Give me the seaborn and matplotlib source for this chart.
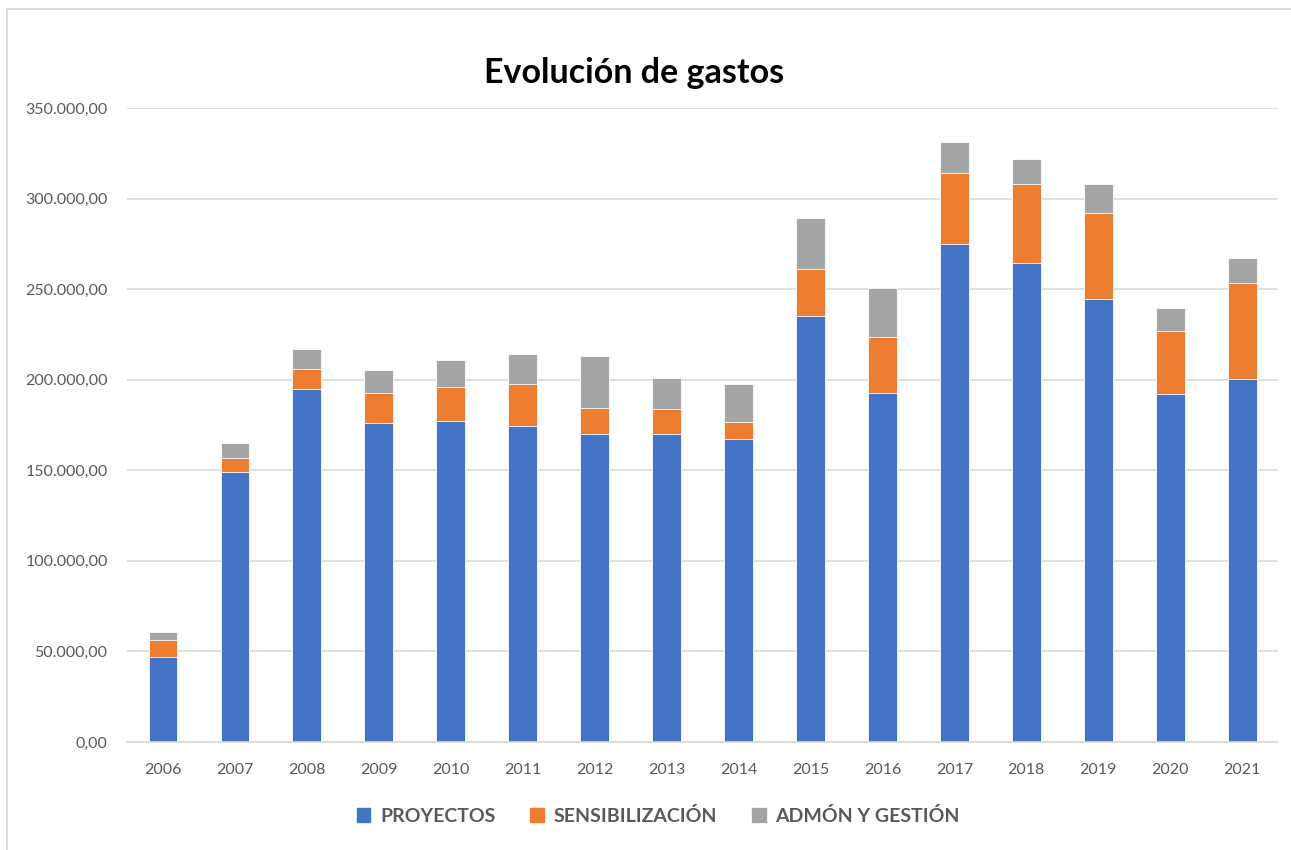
import matplotlib
matplotlib.use("Agg")
import matplotlib.pyplot as plt
import matplotlib.ticker as mtick
from matplotlib.lines import Line2D
import numpy as np
import pandas as pd
import seaborn as sns

# Data
years = ["2006", "2007", "2008", "2009", "2010", "2011", "2012", "2013",
         "2014", "2015", "2016", "2017", "2018", "2019", "2020", "2021"]
proyectos = [47100, 149100, 195000, 176300, 177400, 174600, 170000, 170000,
             167100, 235300, 192900, 274800, 264600, 244600, 192100, 200400]
sensibilizacion = [9400, 7900, 11100, 16200, 18800, 23200, 14600, 13700,
                   9700, 25800, 30900, 39500, 43600, 47400, 34600, 53200]
admon = [4200, 8100, 10700, 13000, 14500, 16200, 28300, 17400,
         21000, 28000, 26700, 16900, 13400, 16000, 13100, 13800]

series = ["PROYECTOS", "SENSIBILIZACIÓN", "ADMÓN Y GESTIÓN"]
colors = ["#4472C4", "#ED7D31", "#A5A5A5"]

df = pd.DataFrame({"year": years, "PROYECTOS": proyectos,
                   "SENSIBILIZACIÓN": sensibilizacion,
                   "ADMÓN Y GESTIÓN": admon})
# cumulative tops for stacking (draw tallest first)
df["top_sens"] = df["PROYECTOS"] + df["SENSIBILIZACIÓN"]
df["top_admon"] = df["top_sens"] + df["ADMÓN Y GESTIÓN"]

sns.set_theme(style="white")
plt.rcParams["font.family"] = ["Lato", "DejaVu Sans"]

fig = plt.figure(figsize=(12.91, 8.5), dpi=100)
ax = fig.add_axes([0.0984, 0.127, 0.8916, 0.746])

for col, c in zip(["top_admon", "top_sens", "PROYECTOS"], colors[::-1]):
    sns.barplot(data=df, x="year", y=col, color=c, width=0.4,
                edgecolor="white", linewidth=0.6, saturation=1, ax=ax)

ax.set_ylim(0, 350000)
ax.set_xlim(-0.5, len(years) - 0.5)
ax.set_yticks(np.arange(0, 350001, 50000))
ax.yaxis.set_major_formatter(mtick.FuncFormatter(
    lambda v, p: f"{v:,.2f}".replace(",", "X").replace(".", ",").replace("X", ".")))
ax.grid(axis="y", color="#D9D9D9", linewidth=1.2)
ax.set_axisbelow(True)
for s in ["top", "right", "left"]:
    ax.spines[s].set_visible(False)
ax.spines["bottom"].set_color("#D9D9D9")
ax.spines["bottom"].set_linewidth(1.2)
ax.tick_params(axis="both", length=0, labelsize=11.5, labelcolor="#595959")
ax.tick_params(axis="x", pad=15)
ax.tick_params(axis="y", pad=14)
ax.set_xlabel("")
ax.set_ylabel("")

fig.text(0.491, 0.914, "Evolución de gastos", ha="center", va="center",
         fontsize=24.5, fontweight="bold", color="black")

handles = [plt.Rectangle((0, 0), 1, 1, color=c) for c in colors]
leg = fig.legend(handles, series, loc="center", bbox_to_anchor=(0.51, 0.04),
                 ncol=3, frameon=False, handlelength=0.7, handleheight=0.7,
                 columnspacing=1.8, handletextpad=0.5,
                 prop={"weight": "bold", "size": 14})
for t in leg.get_texts():
    t.set_color("#595959")

# outer chart-area border (left and top edges visible in the reference)
fig.add_artist(Line2D([0.0055, 0.0055], [0, 0.99], transform=fig.transFigure,
                      color="#D9D9D9", linewidth=1.5))
fig.add_artist(Line2D([0.0055, 1], [0.99, 0.99], transform=fig.transFigure,
                      color="#D9D9D9", linewidth=1.5))

fig.savefig("out.png", dpi=100)
